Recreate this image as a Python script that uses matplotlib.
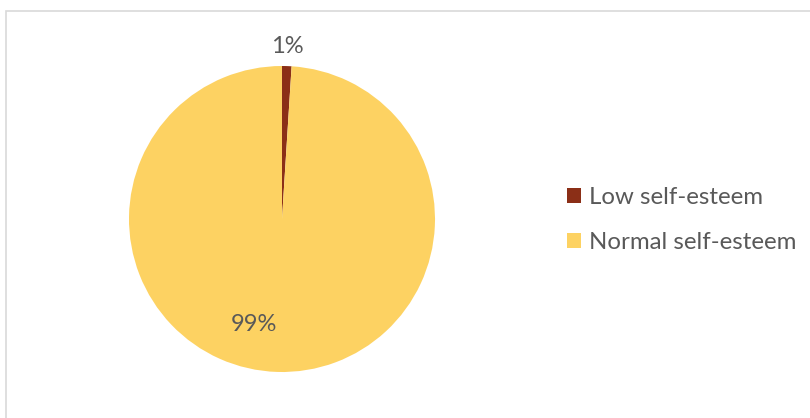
import numpy as np
import matplotlib.pyplot as plt
from matplotlib.patches import Patch, Rectangle

categories = ['Low self-esteem', 'Normal self-esteem']
shares = [1, 99]
pct_labels = ['1%', '99%']
colors = ['#8B2F17', '#FDD262']

plt.rcParams['font.family'] = ['Lato', 'DejaVu Sans']
text_color = '#595959'

fig = plt.figure(figsize=(8.1, 4.18), dpi=100)

# chart frame
fig.patches.append(Rectangle((6 / 810, -0.2), 1.2, 1.2 - 11 / 418, transform=fig.transFigure,
                             fill=False, edgecolor='#D9D9D9', linewidth=1.2))

ax = fig.add_axes([129 / 810, 46 / 418, 306 / 810, 306 / 418])
wedges, _ = ax.pie(shares, colors=colors, startangle=90, counterclock=False,
                   radius=1, wedgeprops=dict(linewidth=0))
ax.set_xlim(-1, 1)
ax.set_ylim(-1, 1)
ax.set_aspect('equal')
ax.axis('off')

# percentage labels: small slice outside, large slice inside
for w, lab, dist, off in zip(wedges, pct_labels, [1.13, 0.71], [0, -13]):
    mid = np.deg2rad((w.theta1 + w.theta2) / 2 + off)
    ax.text(dist * np.cos(mid), dist * np.sin(mid), lab, ha='center', va='center',
            fontsize=17, color=text_color, clip_on=False)

handles = [Patch(facecolor=c, edgecolor='none') for c in colors]
fig.legend(handles, categories, loc='center left', bbox_to_anchor=(555 / 810, 1 - 220 / 418),
           frameon=False, fontsize=17.3, labelcolor=text_color, handlelength=0.6,
           handleheight=0.6, handletextpad=0.3, labelspacing=1.0, borderpad=0)

fig.savefig('out.png', dpi=100)
